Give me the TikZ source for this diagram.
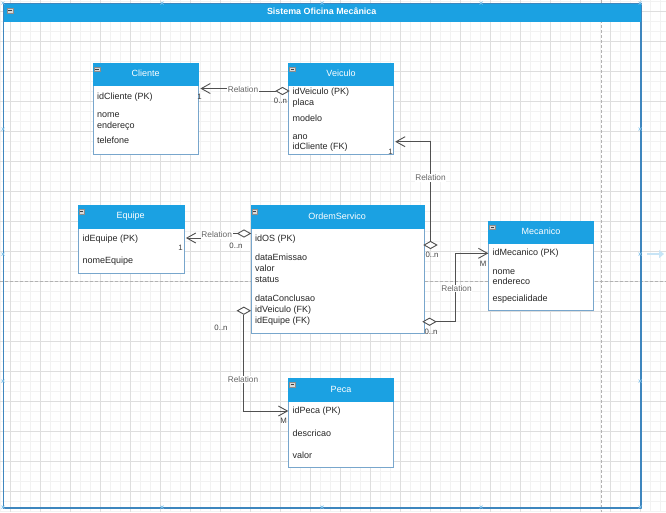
\documentclass[tikz,border=0pt]{standalone}
\usepackage{fontspec}
\setmainfont{Liberation Sans}
\usetikzlibrary{arrows.meta,shapes.geometric,calc}

\definecolor{hdrblue}{RGB}{27,161,226}
\definecolor{frameblue}{RGB}{62,134,190}
\definecolor{boxedge}{RGB}{120,166,204}
\definecolor{wirecol}{RGB}{80,80,80}
\definecolor{handlecol}{RGB}{130,195,235}

\tikzset{
  gridminor/.style={draw=black!5, line width=0.5pt},
  gridmajor/.style={draw=black!13, line width=0.6pt},
  pagebreak/.style={draw=black!30, line width=0.7pt, dash pattern=on 3pt off 2pt},
  entbody/.style={draw=boxedge, line width=0.9pt, fill=white, anchor=north west, inner sep=0},
  enthead/.style={draw=hdrblue, fill=hdrblue, anchor=north west, inner sep=0, minimum height=22.5pt},
  enttitle/.style={text=white, inner sep=0, font=\fontsize{9}{10}\selectfont},
  minusicon/.style={draw=black!45, fill=black!15, inner sep=0, minimum width=5.5pt, minimum height=4.5pt,
    path picture={\draw[black!75, line width=0.8pt]
      ([xshift=1pt]path picture bounding box.west) -- ([xshift=-1pt]path picture bounding box.east);}},
  attr/.style={anchor=west, inner sep=0, text height=6.5pt, text depth=2pt, text=black!85,
    font=\fontsize{9}{10}\selectfont},
  wire/.style={draw=wirecol, line width=0.9pt},
  tipopen/.style={-{Straight Barb[length=9pt,width=10pt]}},
  agg/.style={shape=diamond, draw=wirecol, line width=0.9pt, fill=white,
    minimum width=13pt, minimum height=7.5pt, inner sep=0},
  rel/.style={fill=white, inner sep=0.6pt, text=black!60, font=\fontsize{8.3}{9}\selectfont},
  mult/.style={inner sep=0, text=black!75, font=\fontsize{7.8}{9}\selectfont},
  handle/.style={draw=handlecol, line width=0.7pt},
}

% entity box: name, x, y, width, height, title
\newcommand\entity[6]{%
  \node[entbody, minimum width=#4pt, minimum height=#5pt] (#1) at (#2,#3) {};
  \node[enthead, minimum width=#4pt] (#1-head) at (#2,#3) {};
  \node[enttitle] (#1-title) at ([yshift=0.5pt]#1-head.center) {#6};
  \node[minusicon] (#1-icon) at ([xshift=4pt,yshift=-6.5pt]#1-head.north west) {};
}

\begin{document}
\begin{tikzpicture}[x=1pt,y=-1pt]
\useasboundingbox (0,0) rectangle (666,512);
\fill[white] (0,0) rectangle (666,512);

% background grid
\foreach \x in {0,10,...,660} \draw[gridminor] (\x,0) -- (\x,512);
\foreach \y in {1.7,11.7,...,511.7} \draw[gridminor] (0,\y) -- (666,\y);
\foreach \x in {10,40,...,640} \draw[gridmajor] (\x,0) -- (\x,512);
\foreach \y in {11.7,41.7,...,491.7} \draw[gridmajor] (0,\y) -- (666,\y);

% page breaks
\draw[pagebreak] (0,281) -- (666,281);
\draw[pagebreak] (601,0) -- (601,512);

% container
\node[draw=frameblue, line width=1pt, minimum width=637pt, minimum height=504pt,
      anchor=north west, inner sep=0] (frame) at (3,3) {};
\node[draw=hdrblue, fill=hdrblue, minimum width=637pt, minimum height=17.5pt,
      anchor=north west, inner sep=0] (frame-head) at (3,3) {};
\draw[frameblue, line width=1pt] (frame.north west) rectangle (frame.south east);
\node[text=white, inner sep=0, font=\bfseries\fontsize{8.9}{10}\selectfont] (frame-title)
      at ([yshift=0.5pt]frame-head.center) {Sistema Oficina Mecânica};
\node[minusicon] (frame-icon) at ([xshift=7pt,yshift=-7.5pt]frame-head.north west) {};

% selection handles
\foreach \x in {3,162,322,481,640} {
  \draw[handle] (\x-1.5,1.5) -- (\x+1.5,4.5) (\x-1.5,4.5) -- (\x+1.5,1.5);
  \draw[handle] (\x-1.5,505.5) -- (\x+1.5,508.5) (\x-1.5,508.5) -- (\x+1.5,505.5);
}
\foreach \x in {3,640} \foreach \y in {129,254,381}
  \draw[handle] (\x-1.5,\y-1.5) -- (\x+1.5,\y+1.5) (\x-1.5,\y+1.5) -- (\x+1.5,\y-1.5);
\coordinate (grip-a) at (647,254);
\coordinate (grip-b) at (664,254);
\draw[draw=handlecol!45, line width=2.6pt, -{Triangle[length=5pt,width=8pt]}] (grip-a) -- (grip-b);

% entities
\entity{cliente}{93}{62.5}{105}{91}{Cliente}
\node[attr] (cliente-1) at (97,97)   {idCliente (PK)};
\node[attr] (cliente-2) at (97,115.5){nome};
\node[attr] (cliente-3) at (97,126)  {endereço};
\node[attr] (cliente-4) at (97,141.5){telefone};

\entity{veiculo}{288.3}{62.5}{105}{91}{Veiculo}
\node[attr] (veiculo-1) at (292.5,92)   {idVeiculo (PK)};
\node[attr] (veiculo-2) at (292.5,103)  {placa};
\node[attr] (veiculo-3) at (292.5,119.5){modelo};
\node[attr] (veiculo-4) at (292.5,137)  {ano};
\node[attr] (veiculo-5) at (292.5,147.5){idCliente (FK)};

\entity{equipe}{77.5}{205}{106}{68}{Equipe}
\node[attr] (equipe-1) at (82.5,239.5){idEquipe (PK)};
\node[attr] (equipe-2) at (82.5,261.5){nomeEquipe};

\entity{os}{250.5}{205}{173}{127.5}{OrdemServico}
\node[attr] (os-1) at (255,239.5){idOS (PK)};
\node[attr] (os-2) at (255,258)  {dataEmissao};
\node[attr] (os-3) at (255,269)  {valor};
\node[attr] (os-4) at (255,280.5){status};
\node[attr] (os-5) at (255,299)  {dataConclusao};
\node[attr] (os-6) at (255,310.5){idVeiculo (FK)};
\node[attr] (os-7) at (255,321.5){idEquipe (FK)};

\entity{mecanico}{488.3}{220.5}{105}{89.5}{Mecanico}
\node[attr] (mecanico-1) at (492.5,253.5){idMecanico (PK)};
\node[attr] (mecanico-2) at (492.5,272)  {nome};
\node[attr] (mecanico-3) at (492.5,282.5){endereco};
\node[attr] (mecanico-4) at (492.5,299.5){especialidade};

\entity{peca}{288.3}{378.3}{105}{88.5}{Peca}
\node[attr] (peca-1) at (292.5,411.5){idPeca (PK)};
\node[attr] (peca-2) at (292.5,434.5){descricao};
\node[attr] (peca-3) at (292.5,456){valor};

% Veiculo -> Cliente
\node[agg] (agg-vc) at (282.5,91) {};
\draw[wire, tipopen] (agg-vc.west) -- (243,91) -- (243,88.5) -- ($(cliente.east |- 0,88.5)+(1.5,0)$);
\node[rel] (rel-vc) at (243,90) {Relation};
\node[mult] (m-vc-1) at (199.5,97) {1};
\node[mult] (m-vc-n) at (280.5,100.5) {0..n};

% OrdemServico -> Veiculo
\node[agg] (agg-ov) at (430.5,245) {};
\draw[wire, tipopen] (agg-ov.north) -- (430.5,141.7) -- ($(veiculo.east |- 0,141.7)+(1,0)$);
\node[rel] (rel-ov) at (430.5,178) {Relation};
\node[mult] (m-ov-1) at (390.5,151.5) {1};
\node[mult] (m-ov-n) at (432,254.5) {0..n};

% OrdemServico -> Equipe
\node[agg] (agg-oe) at (244,233.5) {};
\draw[wire, tipopen] (agg-oe.west) -- (217,233.5) -- (217,238) -- ($(equipe.east |- 0,238)+(1.5,0)$);
\node[rel] (rel-oe) at (216.7,235) {Relation};
\node[mult] (m-oe-1) at (180.5,247.5) {1};
\node[mult] (m-oe-n) at (236,246) {0..n};

% OrdemServico -> Mecanico
\node[agg] (agg-om) at (429.5,321.7) {};
\draw[wire, tipopen] (agg-om.east) -- (455.5,321.7) -- (455.5,253.3) -- (mecanico.west |- 0,253.3);
\node[rel] (rel-om) at (456.5,288.5) {Relation};
\node[mult] (m-om-n) at (431,331.7) {0..n};
\node[mult] (m-om-m) at (483,263.5) {M};

% OrdemServico -> Peca
\node[agg] (agg-op) at (243.8,310.7) {};
\draw[wire, tipopen] (agg-op.south) -- (243.8,411) -- (peca.west |- 0,411);
\node[rel] (rel-op) at (243,379.5) {Relation};
\node[mult] (m-op-n) at (221,327.5) {0..n};
\node[mult] (m-op-m) at (283.5,421) {M};
\end{tikzpicture}
\end{document}
